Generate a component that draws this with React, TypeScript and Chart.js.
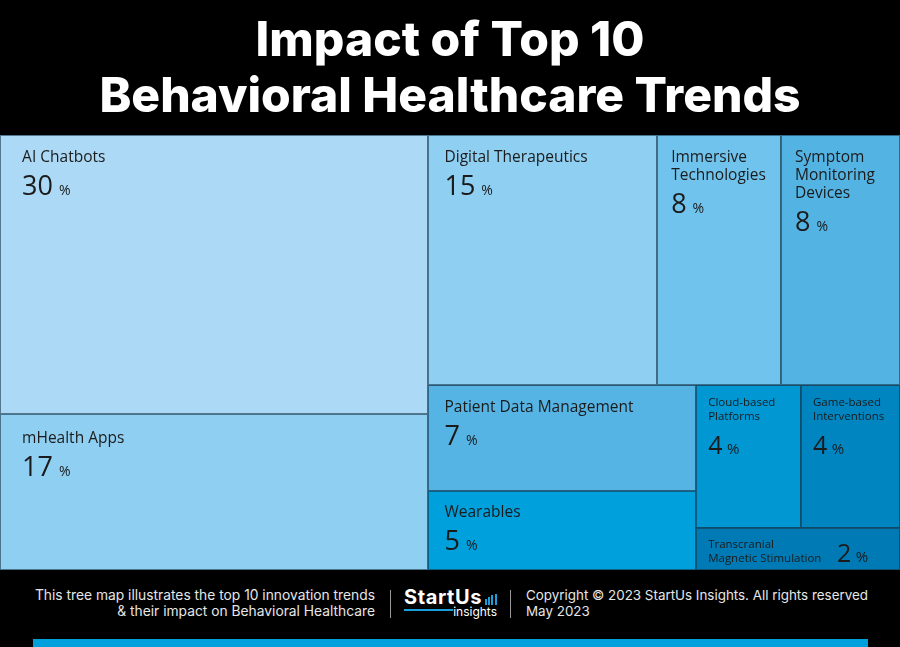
import React, { useEffect, useRef } from 'react';
import { Chart, registerables } from 'chart.js';

Chart.register(...registerables);

// ---------- data ----------
const categories: (string | string[])[] = [
  'AI Chatbots',
  'mHealth Apps',
  'Digital Therapeutics',
  ['Immersive', 'Technologies'],
  ['Symptom', 'Monitoring', 'Devices'],
  'Patient Data Management',
  'Wearables',
  ['Cloud-based', 'Platforms'],
  ['Game-based', 'Interventions'],
  ['Transcranial', 'Magnetic Stimulation'],
];
// underlying impact share (estimated from tile areas)
const impactShare = [30.4, 17.0, 14.6, 7.9, 7.6, 7.2, 5.4, 3.8, 3.6, 2.2];
// printed percentages
const impactPercent = [30, 17, 15, 8, 8, 7, 5, 4, 4, 2];
// slice-and-dice grouping (indices into categories), directions alternate x / y
const layoutTree: any = [[0, 1], [[2, 3, 4], [[5, 6], [[7, 8], 9]]]];

const titleLines = ['Impact of Top 10', 'Behavioral Healthcare Trends'];

// ---------- styles ----------
const tileColors = [
  '#ACD9F5', '#8FCFF1', '#8FCFF1', '#70C3EC', '#53B3E3',
  '#55B4E4', '#00A0DC', '#0097D3', '#0085C1', '#007AB4',
];
const TEXT_COLOR = '#1b1b1b';
const BORDER_COLOR = 'rgba(25,55,75,0.6)';
const LABEL_FONT = '"Open Sans", "Noto Sans", sans-serif';

type Rect = { x0: number; y0: number; x1: number; y1: number };

function nodeSum(node: any): number {
  return typeof node === 'number'
    ? impactShare[node]
    : node.reduce((s: number, c: any) => s + nodeSum(c), 0);
}

function sliceDice(node: any, r: Rect, alongX: boolean, out: Rect[]) {
  if (typeof node === 'number') {
    out[node] = r;
    return;
  }
  const total = nodeSum(node);
  let pos = alongX ? r.x0 : r.y0;
  const span = alongX ? r.x1 - r.x0 : r.y1 - r.y0;
  for (const child of node) {
    const size = (span * nodeSum(child)) / total;
    const cr = alongX
      ? { x0: pos, x1: pos + size, y0: r.y0, y1: r.y1 }
      : { x0: r.x0, x1: r.x1, y0: pos, y1: pos + size };
    sliceDice(child, cr, !alongX, out);
    pos += size;
  }
}

const treemapPlugin = {
  id: 'treemapTiles',
  beforeDatasetsDraw(chart: any) {
    const ctx: CanvasRenderingContext2D = chart.ctx;
    const xs = chart.scales.x;
    const ys = chart.scales.y;
    const rects: Rect[] = [];
    sliceDice(layoutTree, { x0: 0, y0: 0, x1: 100, y1: 100 }, true, rects);

    const px = rects.map((r) => ({
      left: xs.getPixelForValue(r.x0),
      right: xs.getPixelForValue(r.x1),
      top: ys.getPixelForValue(r.y0),
      bottom: ys.getPixelForValue(r.y1),
      atLeft: r.x0 === 0,
    }));

    ctx.save();
    px.forEach((p, i) => {
      ctx.fillStyle = tileColors[i];
      ctx.fillRect(p.left, p.top, p.right - p.left, p.bottom - p.top);
    });
    ctx.strokeStyle = BORDER_COLOR;
    ctx.lineWidth = 1;
    px.forEach((p) => {
      const l = Math.round(p.left) + 0.5;
      const t = Math.round(p.top) + 0.5;
      const rr = Math.round(p.right) - 0.5;
      const b = Math.round(p.bottom) - 0.5;
      ctx.strokeRect(l, t, rr - l, b - t);
    });

    ctx.textBaseline = 'alphabetic';
    ctx.textAlign = 'left';
    ctx.fillStyle = TEXT_COLOR;
    px.forEach((p, i) => {
      const w = p.right - p.left;
      const h = p.bottom - p.top;
      const big = impactShare[i] >= 5;
      const labelSize = big ? 15.5 : 11.5;
      const lineH = big ? 18.3 : 14;
      const padX = (big ? (w >= 200 ? 16.6 : 14.3) : 12.3) + (p.atLeft ? 5.5 : 0);
      const firstBase = p.top + (big ? (h > 150 && p.atLeft && p.top > 200 ? 29.5 : 26.5) : 20.5);
      const cat = categories[i];
      const lines = Array.isArray(cat) ? cat : [cat];
      ctx.font = `400 ${labelSize}px ${LABEL_FONT}`;
      lines.forEach((ln, k) => ctx.fillText(ln, p.left + padX, firstBase + k * lineH));
      const lastBase = firstBase + (lines.length - 1) * lineH;
      let numX = p.left + padX;
      let numBase = lastBase + (big ? 33 : 34);
      if (numBase > p.bottom - 4) {
        const maxW = Math.max(...lines.map((l) => ctx.measureText(l).width));
        numX = p.left + padX + maxW + 15.5;
        numBase = lastBase;
      }
      const numSize = big ? 27 : 25;
      const pctSize = big ? 14 : 15;
      const numText = String(impactPercent[i]);
      ctx.font = `400 ${numSize}px ${LABEL_FONT}`;
      ctx.fillText(numText, numX, numBase);
      const nw = ctx.measureText(numText).width;
      ctx.font = `400 ${pctSize}px ${LABEL_FONT}`;
      ctx.fillText('%', numX + nw + (big ? 6 : 4.5), numBase);
    });
    ctx.restore();
  },
};

function TreemapChart() {
  const canvasRef = useRef<HTMLCanvasElement>(null);
  useEffect(() => {
    if (!canvasRef.current) return;
    const chart = new Chart(canvasRef.current, {
      type: 'scatter',
      data: {
        datasets: [
          {
            label: 'Impact',
            data: [],
            pointRadius: 0,
          },
        ],
      },
      options: {
        animation: false,
        responsive: true,
        maintainAspectRatio: false,
        events: [],
        layout: { padding: 0 },
        scales: {
          x: { type: 'linear', min: 0, max: 100, display: false },
          y: { type: 'linear', min: 0, max: 100, reverse: true, display: false },
        },
        plugins: {
          legend: { display: false },
          tooltip: { enabled: false },
          title: {
            display: true,
            text: titleLines,
            color: '#ffffff',
            font: { family: 'Inter, "Open Sans", sans-serif', size: 48, weight: '800', lineHeight: 56 / 48 },
            padding: { top: 14, bottom: 9 },
          },
        },
      },
      plugins: [treemapPlugin],
    } as any);
    return () => chart.destroy();
  }, []);
  return (
    <div style={{ position: 'relative', width: 900, height: 570 }}>
      <canvas ref={canvasRef} />
    </div>
  );
}

function Footer() {
  const textStyle: React.CSSProperties = {
    position: 'absolute',
    top: 18,
    fontSize: 13.8,
    lineHeight: '15.7px',
    whiteSpace: 'nowrap',
    color: '#e6e6e6',
  };
  const bars = [6, 8, 10, 11];
  return (
    <div
      style={{
        position: 'relative',
        width: 900,
        height: 77,
        background: '#000',
        fontFamily: 'Inter, "Open Sans", sans-serif',
      }}
    >
      <div style={{ ...textStyle, right: 525, textAlign: 'right' }}>
        This tree map illustrates the top 10 innovation trends
        <br />
        &amp; their impact on Behavioral Healthcare
      </div>
      <div style={{ position: 'absolute', left: 390, top: 20, width: 1, height: 28, background: '#9a9a9a' }} />
      <div
        style={{
          position: 'absolute',
          left: 404,
          top: 17,
          fontSize: 20,
          lineHeight: '20px',
          fontWeight: 700,
          color: '#fff',
          letterSpacing: 0.6,
        }}
      >
        StartUs
      </div>
      {bars.map((h, k) => (
        <div
          key={k}
          style={{
            position: 'absolute',
            left: 485 + k * 3.2,
            top: 34.5 - h,
            width: 2,
            height: h,
            background: '#1a9fdc',
          }}
        />
      ))}
      <div style={{ position: 'absolute', left: 404, top: 38.5, width: 49, height: 2, background: '#1a9fdc' }} />
      <div
        style={{
          position: 'absolute',
          right: 403,
          top: 36,
          fontSize: 12,
          lineHeight: '12px',
          color: '#fff',
        }}
      >
        insights
      </div>
      <div style={{ position: 'absolute', left: 510, top: 20, width: 1, height: 28, background: '#9a9a9a' }} />
      <div style={{ ...textStyle, left: 526, fontSize: 13.4 }}>
        Copyright © 2023 StartUs Insights. All rights reserved
        <br />
        May 2023
      </div>
      <div style={{ position: 'absolute', left: 33, top: 69, width: 835, height: 8, background: '#00A0DC' }} />
    </div>
  );
}

export default function App() {
  useEffect(() => {
    document.body.style.margin = '0';
  }, []);
  return (
    <div style={{ width: 900, height: 647, background: '#000', overflow: 'hidden' }}>
      <style>{'body{margin:0;}'}</style>
      <TreemapChart />
      <Footer />
    </div>
  );
}
